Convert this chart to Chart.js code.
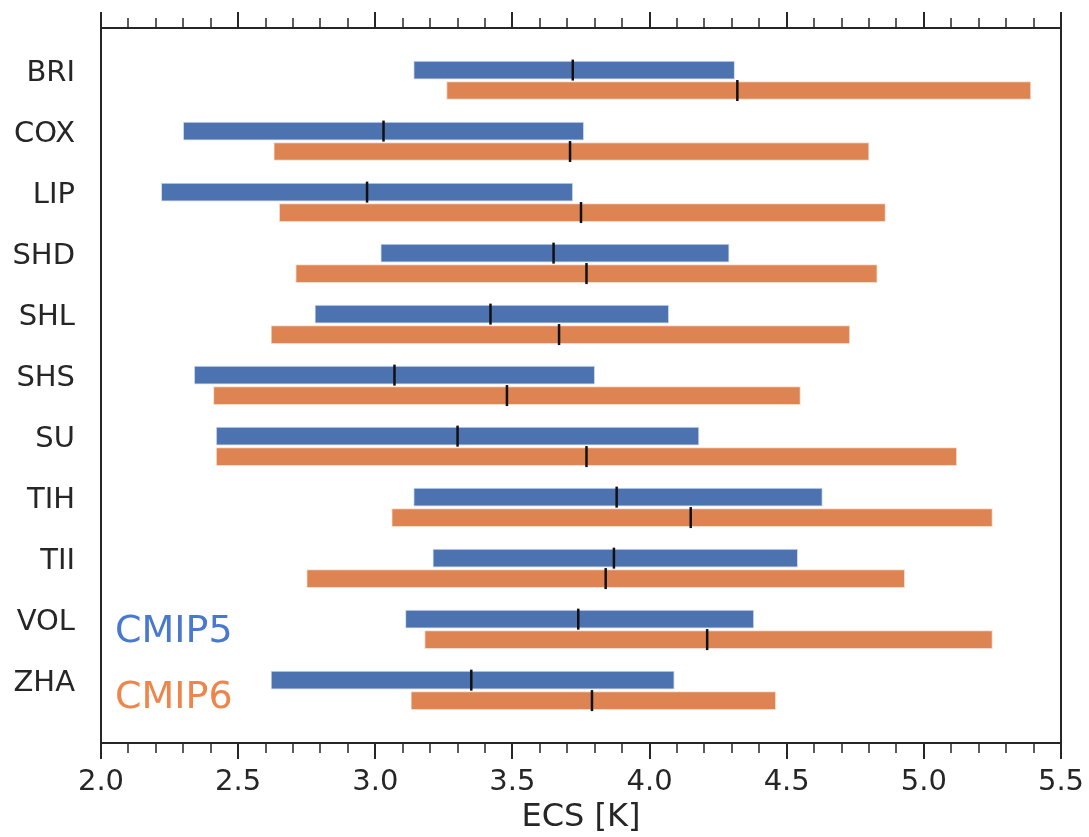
<!DOCTYPE html>
<html>
<head>
<meta charset="utf-8">
<script src="https://cdn.jsdelivr.net/npm/chart.js@4"></script>
<style>
  html, body { margin: 0; padding: 0; background: #fff; }
  #ecs { display: block; }
</style>
</head>
<body>
<canvas id="ecs" width="1089" height="837"></canvas>
<script>
// ECS ranges per model, CMIP5 vs CMIP6
const models = ['BRI', 'COX', 'LIP', 'SHD', 'SHL', 'SHS', 'SU', 'TIH', 'TII', 'VOL', 'ZHA'];

const cmip5Low    = [3.14, 2.30, 2.22, 3.02, 2.78, 2.34, 2.42, 3.14, 3.21, 3.11, 2.62];
const cmip5High   = [4.31, 3.76, 3.72, 4.29, 4.07, 3.80, 4.18, 4.63, 4.54, 4.38, 4.09];
const cmip5Median = [3.72, 3.03, 2.97, 3.65, 3.42, 3.07, 3.30, 3.88, 3.87, 3.74, 3.35];

const cmip6Low    = [3.26, 2.63, 2.65, 2.71, 2.62, 2.41, 2.42, 3.06, 2.75, 3.18, 3.13];
const cmip6High   = [5.39, 4.80, 4.86, 4.83, 4.73, 4.55, 5.12, 5.25, 4.93, 5.25, 4.46];
const cmip6Median = [4.32, 3.71, 3.75, 3.77, 3.67, 3.48, 3.77, 4.15, 3.84, 4.21, 3.79];

const xMajorTicks = [2.0, 2.5, 3.0, 3.5, 4.0, 4.5, 5.0, 5.5];

const BLUE = '#4c72b0';
const ORANGE = '#dd8452';
const INK = '#262626';
const FONT = 'DejaVu Sans';

// CMIP6 row sits just under the CMIP5 row of each model
const OFFSET = 0.335;

function rangeData(lo, hi, shift) {
  return models.map((m, i) => ({ y: i + shift, x: [lo[i], hi[i]] }));
}
function medianData(med, shift) {
  return models.map((m, i) => ({ y: i + shift, x: med[i] }));
}

// frame + minor/major ticks on top and bottom, plus the CMIP5/CMIP6 labels
const frameTicks = {
  id: 'frameTicks',
  afterDraw(chart) {
    const ctx = chart.ctx;
    const a = chart.chartArea;
    const xs = chart.scales.x;
    ctx.save();
    ctx.strokeStyle = INK;
    ctx.lineWidth = 2;
    ctx.strokeRect(a.left, a.top, a.right - a.left, a.bottom - a.top);

    for (let k = 0; k <= 35; k++) {
      const v = 2 + k * 0.1;
      const px = Math.round(xs.getPixelForValue(v));
      const major = k % 5 === 0;
      const len = major ? 16 : 10;
      ctx.lineWidth = major ? 2 : 1.5;
      ctx.beginPath();
      ctx.moveTo(px, a.top);
      ctx.lineTo(px, a.top - len);
      ctx.moveTo(px, a.bottom);
      ctx.lineTo(px, a.bottom + len);
      ctx.stroke();
    }

    ctx.font = '38px "' + FONT + '"';
    ctx.textAlign = 'left';
    ctx.textBaseline = 'middle';
    ctx.fillStyle = '#4878d0';
    ctx.fillText('CMIP5', a.left + 14, 632);
    ctx.fillStyle = '#ee854a';
    ctx.fillText('CMIP6', a.left + 14, 698);
    ctx.restore();
  }
};

const barStyle = {
  type: 'bar',
  order: 2,
  barThickness: 18,
  barPercentage: 1,
  categoryPercentage: 1,
  grouped: false,
  borderWidth: 1,
  borderSkipped: false
};

// medians drawn on top of the bars (lower order = drawn later)
const medianStyle = {
  type: 'scatter',
  order: 0,
  pointStyle: 'line',
  pointRotation: 90,
  pointRadius: 10.5,
  pointHoverRadius: 10.5,
  pointBorderWidth: 2.5,
  pointBorderColor: '#111',
  pointBackgroundColor: '#111',
  borderColor: '#111'
};

new Chart(document.getElementById('ecs'), {
  data: {
    datasets: [
      Object.assign({}, barStyle, {
        label: 'CMIP5',
        data: rangeData(cmip5Low, cmip5High, 0),
        backgroundColor: BLUE,
        borderColor: 'rgba(200,215,240,0.9)'
      }),
      Object.assign({}, barStyle, {
        label: 'CMIP6',
        data: rangeData(cmip6Low, cmip6High, OFFSET),
        backgroundColor: ORANGE,
        borderColor: 'rgba(245,215,195,0.9)'
      }),
      Object.assign({}, medianStyle, { label: 'CMIP5 median', data: medianData(cmip5Median, 0) }),
      Object.assign({}, medianStyle, { label: 'CMIP6 median', data: medianData(cmip6Median, OFFSET) })
    ]
  },
  options: {
    indexAxis: 'y',
    responsive: false,
    animation: false,
    devicePixelRatio: 1,
    layout: { padding: { top: 28, right: 28, left: 0, bottom: 0 } },
    plugins: {
      legend: { display: false },
      tooltip: { enabled: false }
    },
    scales: {
      x: {
        type: 'linear',
        position: 'bottom',
        min: 2.0,
        max: 5.5,
        offset: false,
        afterBuildTicks(scale) {
          scale.ticks = xMajorTicks.map(v => ({ value: v }));
        },
        afterFit(scale) {
          scale.height = 94;
          scale.paddingLeft = 0;
          scale.paddingRight = 0;
        },
        grid: { display: false, drawTicks: false, offset: false },
        border: { display: false },
        ticks: {
          padding: 22,
          color: INK,
          font: { family: FONT, size: 29 },
          callback: v => v.toFixed(1)
        },
        title: {
          display: true,
          text: 'ECS [K]',
          color: INK,
          font: { family: FONT, size: 32 },
          padding: { top: 5, bottom: 0 }
        }
      },
      y: {
        type: 'linear',
        reverse: true,
        offset: false,
        min: -0.69,
        max: 11.03,
        afterBuildTicks(scale) {
          scale.ticks = models.map((m, i) => ({ value: i }));
        },
        afterFit(scale) {
          scale.width = 101;
          scale.paddingTop = 0;
          scale.paddingBottom = 0;
        },
        grid: { display: false, drawTicks: false, offset: false },
        border: { display: false },
        ticks: {
          padding: 26,
          labelOffset: 3,
          color: INK,
          font: { family: FONT, size: 29 },
          callback: v => models[v]
        }
      }
    }
  },
  plugins: [frameTicks]
});
</script>
</body>
</html>
